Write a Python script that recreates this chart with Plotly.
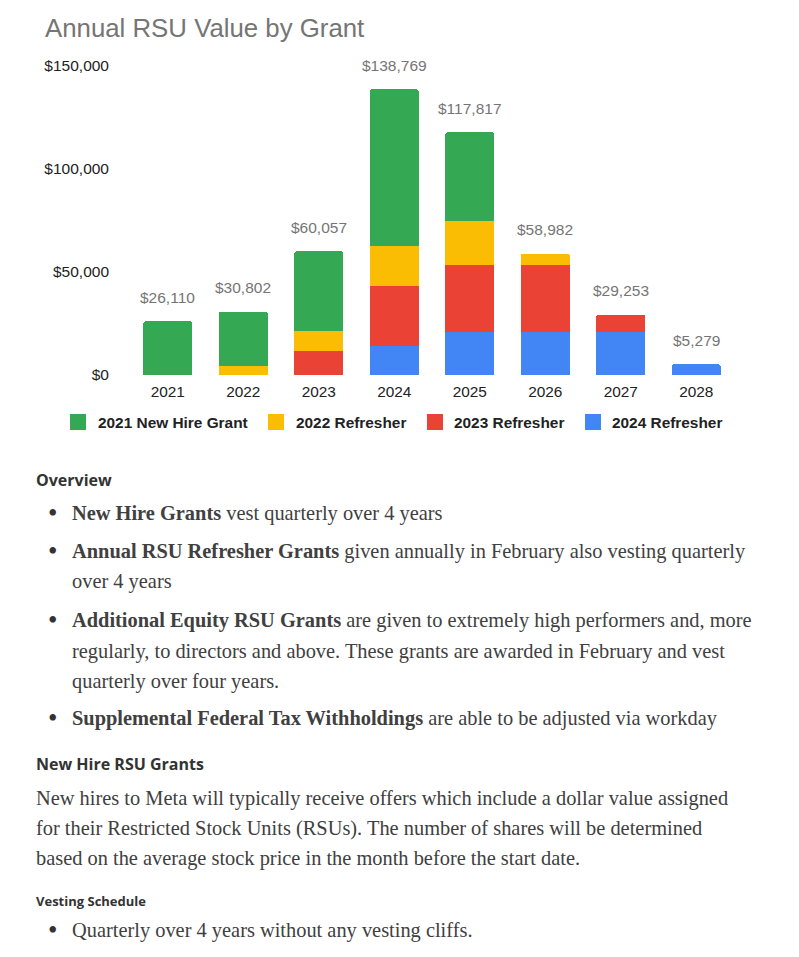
import plotly.graph_objects as go

W, H = 799, 957

years = ["2021", "2022", "2023", "2024", "2025", "2026", "2027", "2028"]
grant_2021_new_hire = [26110, 26582, 38697, 76369, 43117, None, None, None]
refresher_2022 = [None, 4220, 9560, 19100, 21300, 5582, None, None]
refresher_2023 = [None, None, 11800, 29000, 32600, 32600, 8453, None]
refresher_2024 = [None, None, None, 14300, 20800, 20800, 20800, 5279]
totals = [26110, 30802, 60057, 138769, 117817, 58982, 29253, 5279]

series_names = ["2021 New Hire Grant", "2022 Refresher", "2023 Refresher", "2024 Refresher"]
series_colors = ["#34A853", "#FBBC04", "#EA4335", "#4285F4"]
y_ticks = [0, 50000, 100000, 150000]

SANS = "Arial, Liberation Sans, sans-serif"
SERIF = "Liberation Serif, Times New Roman, serif"
HEAD = "Open Sans, Lato, sans-serif"

OFF = 8  # page body margin


def fx(px):
    return (px - OFF) / W


def fy(py):
    return 1 - (py - OFF) / H


fig = go.Figure()
stack = [
    (series_names[3], refresher_2024, series_colors[3]),
    (series_names[2], refresher_2023, series_colors[2]),
    (series_names[1], refresher_2022, series_colors[1]),
    (series_names[0], grant_2021_new_hire, series_colors[0]),
]
for name, vals, col in stack:
    fig.add_trace(go.Bar(x=years, y=vals, name=name, marker=dict(color=col, line=dict(width=0)),
                         showlegend=False, hoverinfo="skip"))

annotations = []
# value labels above bars
for i, tot in enumerate(totals):
    annotations.append(dict(x=i, y=tot, xref="x", yref="y", yshift=24, showarrow=False,
                            text="${:,}".format(tot), font=dict(family=SANS, size=15.5, color="#757575"),
                            xanchor="center", yanchor="middle"))

# title
annotations.append(dict(x=fx(43), y=fy(28), xref="paper", yref="paper", showarrow=False,
                        text="Annual RSU Value by Grant", xanchor="left", yanchor="middle",
                        font=dict(family=SANS, size=25.8, color="#757575")))

# custom legend
shapes = []
sq_left = [70, 268, 427, 585]
txt_left = [96, 294, 452, 610]
for name, col, sl, tl in zip(series_names, series_colors, sq_left, txt_left):
    shapes.append(dict(type="rect", xref="paper", yref="paper", x0=fx(sl), x1=fx(sl + 16),
                       y0=fy(430), y1=fy(414), fillcolor=col, line=dict(width=0)))
    annotations.append(dict(x=fx(tl), y=fy(422), xref="paper", yref="paper", showarrow=False,
                            text="<b>" + name + "</b>", xanchor="left", yanchor="middle",
                            font=dict(family=SANS, size=15.4, color="#222222")))

BODY = "#404040"
BS = 20.4


def line(text, px, py, family=SERIF, size=BS, color=BODY):
    annotations.append(dict(x=fx(px - 2), y=fy(py), xref="paper", yref="paper", showarrow=False,
                            text=text, xanchor="left", yanchor="middle",
                            font=dict(family=family, size=size, color=color)))


def bullet(py):
    annotations.append(dict(x=fx(52), y=fy(py), xref="paper", yref="paper", showarrow=False,
                            text="•", xanchor="center", yanchor="middle",
                            font=dict(family=SERIF, size=27, color="#333333")))


line("<b>Overview</b>", 36, 480, family=HEAD, size=16, color="#333333")
bullet(513)
line("<b>New Hire Grants</b> vest quarterly over 4 years", 72, 513)
bullet(551)
line("<b>Annual RSU Refresher Grants</b> given annually in February also vesting quarterly", 72, 551)
line("over 4 years", 72, 581)
bullet(620)
line("<b>Additional Equity RSU Grants</b> are given to extremely high performers and, more", 72, 620)
line("regularly, to directors and above. These grants are awarded in February and vest", 72, 651)
line("quarterly over four years.", 72, 681)
bullet(718)
line("<b>Supplemental Federal Tax Withholdings</b> are able to be adjusted via workday", 72, 718)
line("<b>New Hire RSU Grants</b>", 36, 764, family=HEAD, size=16, color="#333333")
line("New hires to Meta will typically receive offers which include a dollar value assigned", 36, 798)
line("for their Restricted Stock Units (RSUs). The number of shares will be determined", 36, 828)
line("based on the average stock price in the month before the start date.", 36, 858)
line("<b>Vesting Schedule</b>", 36, 901, family=HEAD, size=13, color="#333333")
bullet(930)
line("Quarterly over 4 years without any vesting cliffs.", 72, 930)

fig.update_layout(
    width=W, height=H,
    margin=dict(l=0, r=0, t=0, b=0, autoexpand=False),
    paper_bgcolor="white", plot_bgcolor="white",
    barmode="stack", bargap=0.35, barcornerradius=3,
    showlegend=False,
    xaxis=dict(domain=[fx(130), fx(734)], range=[-0.5, 7.5], type="category",
               showgrid=False, zeroline=False, showline=False, ticks="", automargin=False,
               ticklabelstandoff=6,
               tickfont=dict(family=SANS, size=15.4, color="#222222")),
    yaxis=dict(domain=[fy(375), fy(66)], range=[0, 150000], tickvals=y_ticks,
               ticktext=["${:,}".format(v) for v in y_ticks],
               showgrid=False, zeroline=False, showline=False, ticks="", automargin=False,
               ticklabelstandoff=20,
               tickfont=dict(family=SANS, size=15.5, color="#222222")),
    annotations=annotations,
    shapes=shapes,
)

fig.write_html("out.html")
